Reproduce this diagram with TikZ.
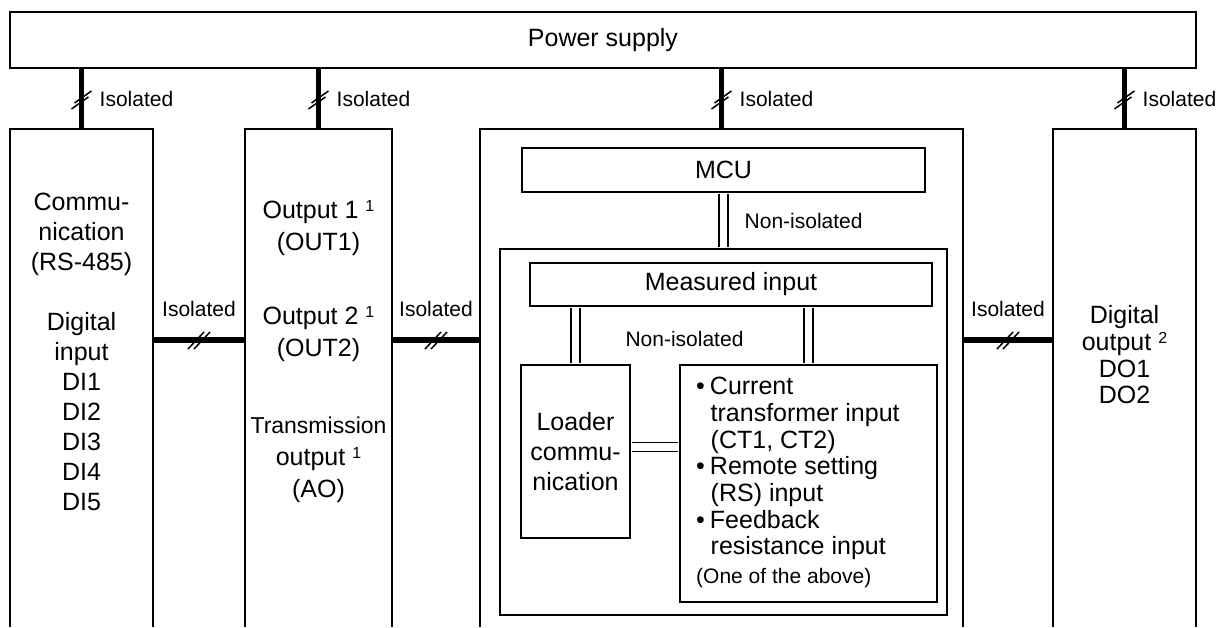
\documentclass[tikz,border=0pt]{standalone}
\usepackage{fontspec}
\setmainfont{Liberation Sans}
\usetikzlibrary{positioning}

\newcommand{\sups}[1]{\raisebox{7pt}{\fontsize{16}{16}\selectfont #1}}
\newcommand{\mainsize}{\fontsize{25}{30}\selectfont}
\newcommand{\smallsize}{\fontsize{21}{25}\selectfont}

\begin{document}
\begin{tikzpicture}[
  x=1pt, y=-1pt,
  panel/.style={rectangle, inner sep=0pt},
  box/.style={draw, rectangle, inner sep=0pt, line width=1.6pt, font=\mainsize},
  wire/.style={line width=5.5pt},
  dbl/.style={double, double distance=7.5pt, line width=1.5pt, shorten <=0.9pt, shorten >=0.9pt},
  txt/.style={align=center, inner sep=0pt, font=\mainsize},
  lbl/.style={inner sep=0pt, font=\smallsize},
  vmark/.pic={\draw[line width=1.5pt] (-10,10) -- (7,-2) (-7,4) -- (10,-8);},
  hmark/.pic={\draw[line width=1.5pt] (-11,9) -- (5,-8) (-5,9) -- (11,-8);}
]
  \useasboundingbox (0,0) rectangle (1221,627);

  % Power supply
  \node[box, line width=2.2pt, minimum width=1186pt, minimum height=56pt] (ps) at (603,40) {Power supply};

  % Panels (open at the bottom)
  \node[panel, minimum width=143pt, minimum height=498pt] (comm) at (81.5,378) {};
  \node[panel, minimum width=147pt, minimum height=498pt] (outp) at (318.5,378) {};
  \node[panel, minimum width=483pt, minimum height=498pt] (ctrl) at (721.5,378) {};
  \node[panel, minimum width=143pt, minimum height=498pt] (dout) at (1124.5,378) {};
  \foreach \p in {comm, outp, ctrl, dout}
    \draw[line width=2.2pt] (\p.south west) |- (\p.north east) -- (\p.south east);

  % Isolated supply lines
  \foreach \p in {comm, outp, ctrl, dout} {
    \draw[wire] (\p.north) -- (\p.north |- ps.south) coordinate[midway] (\p-m);
    \pic at (\p-m) {vmark};
    \node[lbl, right=18pt of \p-m] (\p-lbl) {Isolated};
  }

  % Isolated links between panels
  \coordinate (hy) at (0,340);
  \foreach \a/\b in {comm/outp, outp/ctrl, ctrl/dout} {
    \draw[wire] (\a.east |- hy) -- (\b.west |- hy) coordinate[midway] (\a-h);
    \pic at (\a-h) {hmark};
    \node[lbl, above=23pt of \a-h] (\a-hl) {Isolated};
  }

  % Control block
  \node[box, line width=2pt, minimum width=403pt, minimum height=44pt] (mcu) at (723.5,170) {MCU};
  \node[box, line width=2pt, minimum width=447pt, minimum height=366pt] (inner) at (723.5,432) {};
  \node[box, minimum width=402pt, minimum height=43pt] (meas) at (731,284.5) {Measured input};
  \node[box, minimum width=109pt, minimum height=173pt, align=center] (loader) at (575.5,451.5) {Loader\\commu-\\nication};
  \node[box, minimum width=257pt, minimum height=237pt] (sens) at (808.5,483.5) {};
  \node[txt, align=left, anchor=north west, font=\fontsize{25}{26.7}\selectfont] (senstxt) at (696,377)
    {\textbullet\hspace{5pt}Current\\
     \hspace*{14.5pt}transformer input\\
     \hspace*{14.5pt}(CT1, CT2)\\
     \textbullet\hspace{5pt}Remote setting\\
     \hspace*{14.5pt}(RS) input\\
     \textbullet\hspace{5pt}Feedback\\
     \hspace*{14.5pt}resistance input};
  \node[lbl, anchor=base west] (note) at (696,583) {(One of the above)};

  % Non-isolated links
  \draw[dbl] (mcu.south) -- (mcu.south |- inner.north) coordinate[midway] (m1);
  \node[lbl, right=21pt of m1] (ni1) {Non-isolated};
  \draw[dbl] (loader.north) -- (loader.north |- meas.south);
  \draw[dbl] (sens.north) -- (sens.north |- meas.south);
  \draw[dbl] ([yshift=4.5pt]loader.east) -- ([yshift=4.5pt]loader.east -| sens.west);
  \node[lbl] (ni2) at (684.5,339) {Non-isolated};

  % Panel texts
  \node[txt] (commtxt) at (81.5,352) {Commu-\\nication\\(RS-485)\\[30pt]Digital\\input\\DI1\\DI2\\DI3\\DI4\\DI5};
  \node[txt, font=\fontsize{25}{32}\selectfont] (out1txt) at (318.5,228.5) {Output 1 \sups{1}\\(OUT1)};
  \node[txt, font=\fontsize{25}{32}\selectfont] (out2txt) at (318.5,334) {Output 2 \sups{1}\\(OUT2)};
  \node[txt, font=\fontsize{25}{32}\selectfont] (aotxt) at (318.5,460) {{\fontsize{23}{32}\selectfont Transmission}\\output \sups{1}\\(AO)};
  \node[txt, font=\fontsize{25}{26.7}\selectfont] (dotxt) at (1124.5,355) {Digital\\output \sups{2}\\DO1\\DO2};
\end{tikzpicture}
\end{document}
